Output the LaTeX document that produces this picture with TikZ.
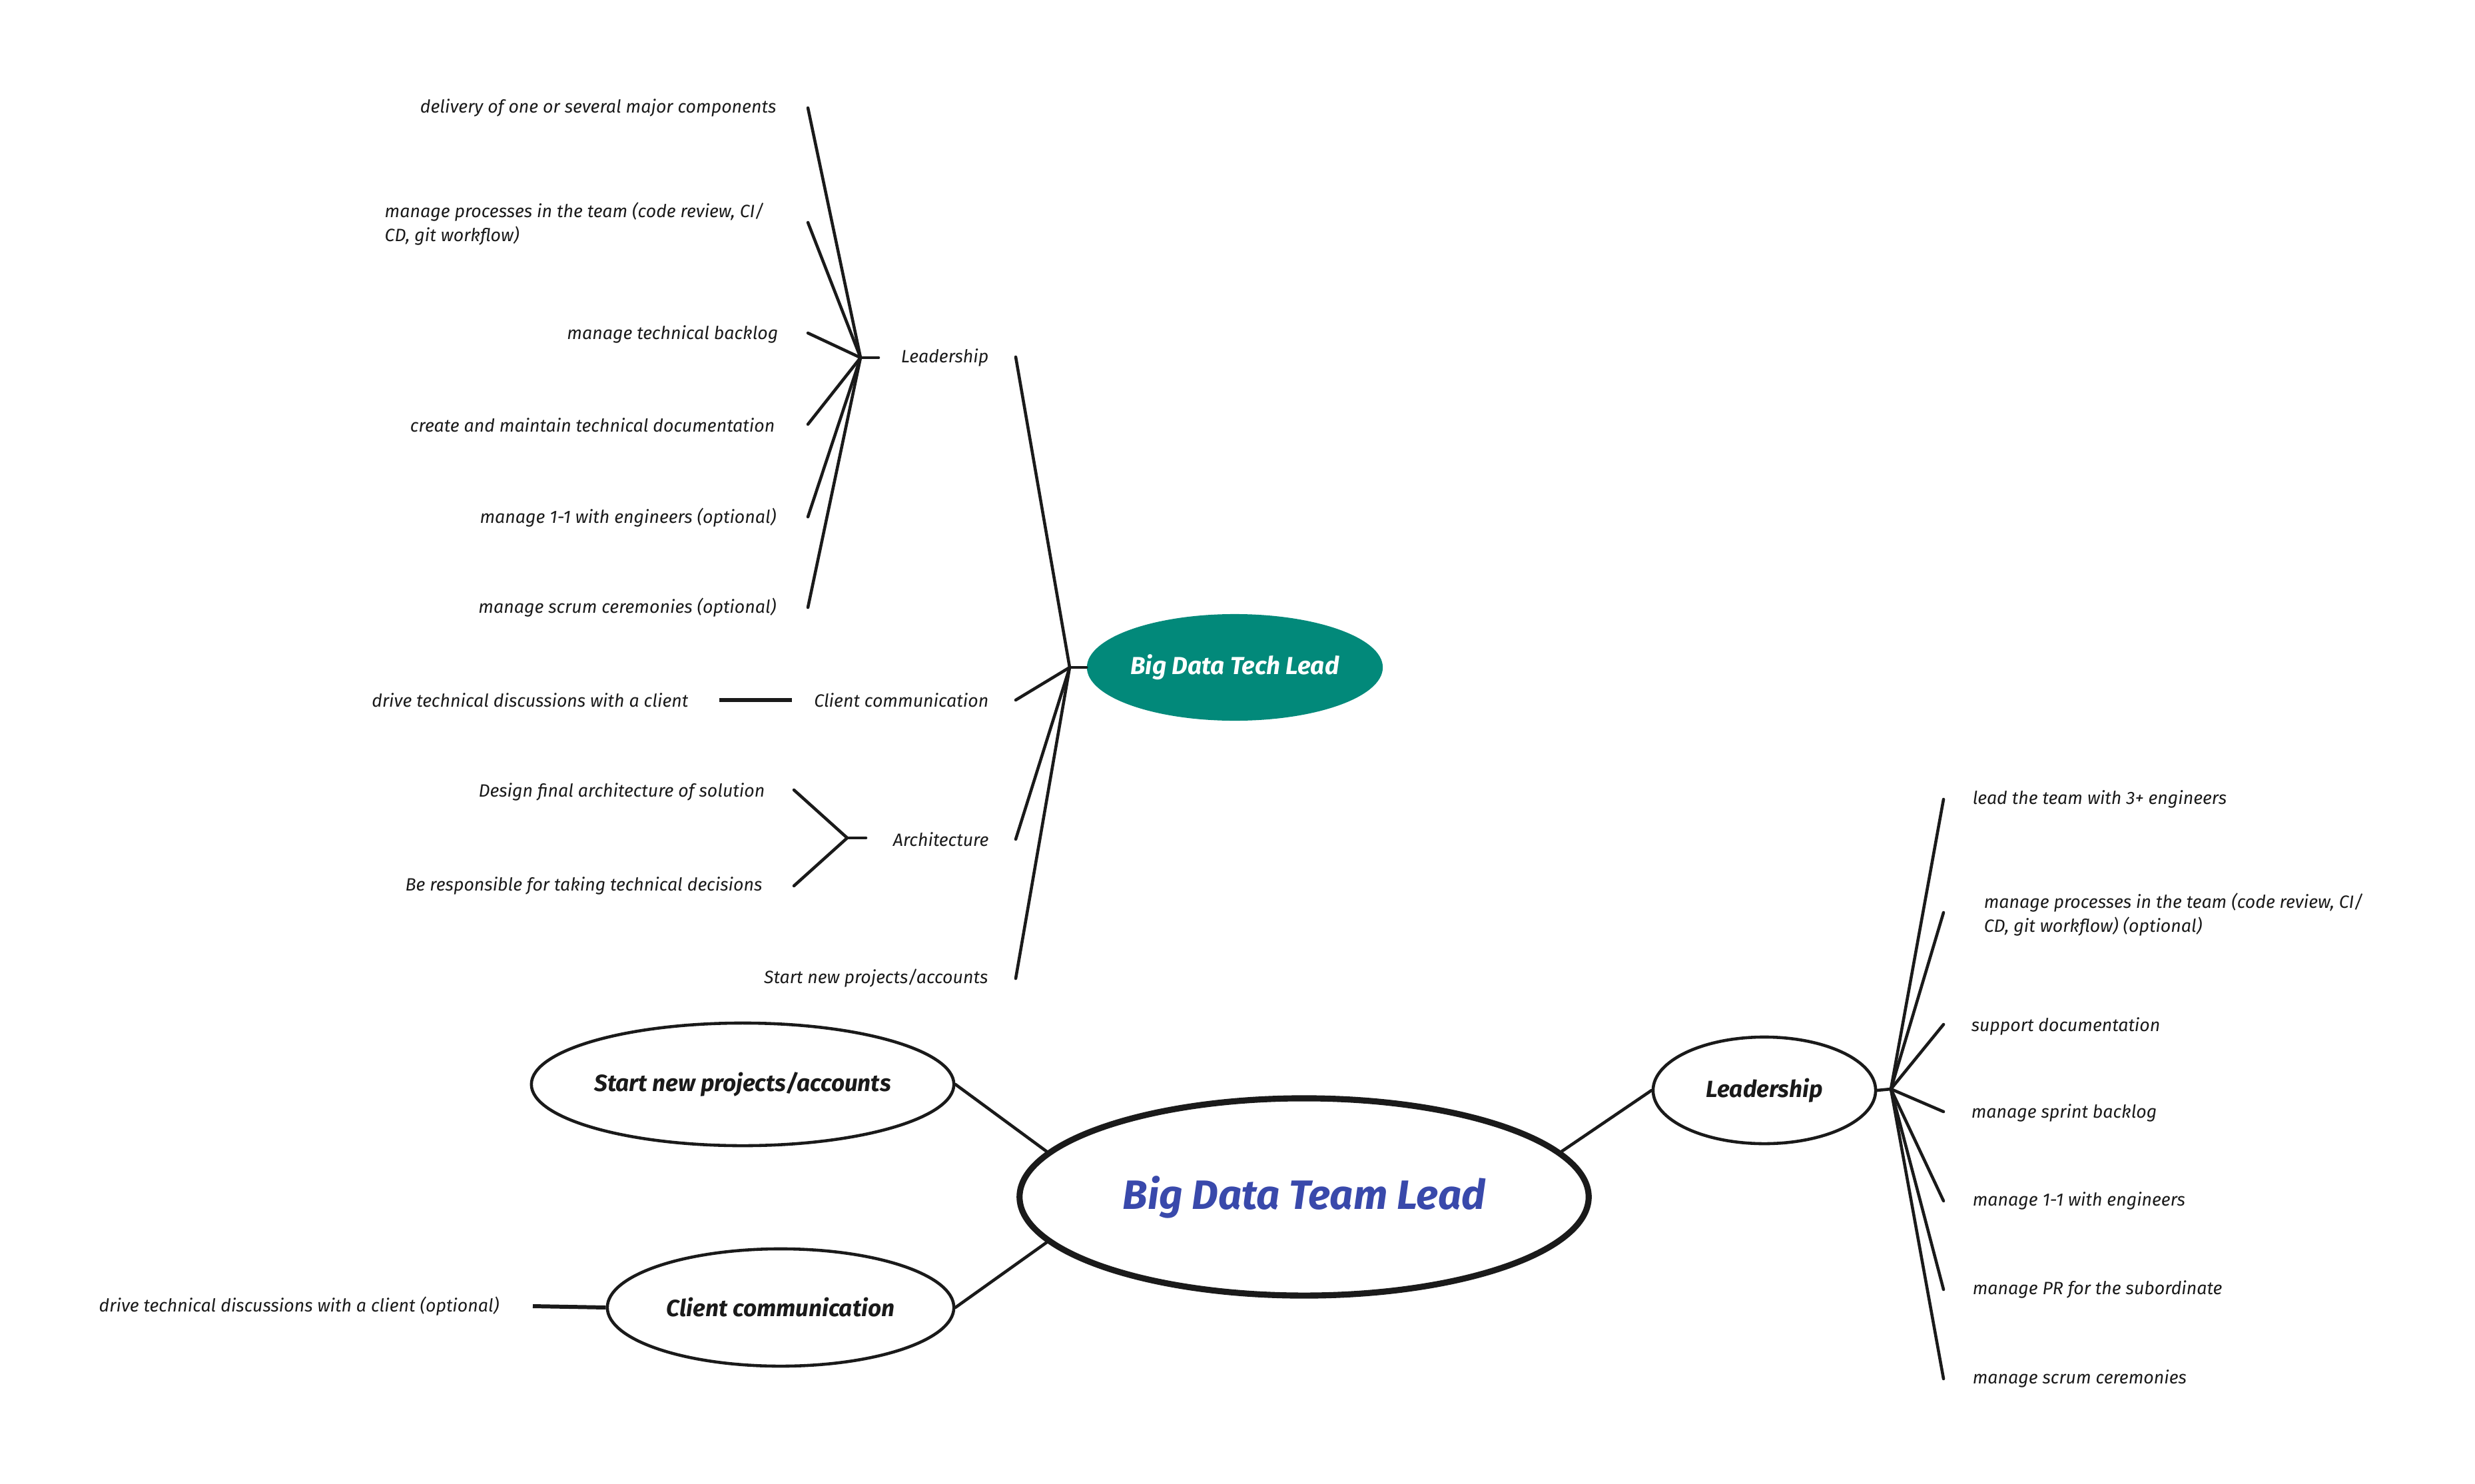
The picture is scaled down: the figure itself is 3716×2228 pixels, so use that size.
\documentclass[tikz,border=0pt]{standalone}
\usepackage{fontspec}
\setmainfont{Fira Sans}
\usetikzlibrary{shapes.geometric}
\definecolor{teal1}{HTML}{02897A}
\definecolor{ink}{HTML}{1A1A1A}
\definecolor{blue1}{HTML}{3949AB}
\begin{document}
\begin{tikzpicture}[x=0.01cm,y=-0.01cm,
  ln/.style={line width=1.3pt, draw=ink, line cap=round},
  thick line/.style={line width=1.7pt, draw=ink},
  leaf/.style={font=\fontsize{7.6}{10}\selectfont\itshape, inner sep=0pt, text=ink},
  lab/.style={font=\fontsize{10}{11}\selectfont\bfseries\itshape, text=ink},
  bub/.style={ellipse, draw=ink, line width=1.3pt, inner sep=0pt, fill=white},
]
\useasboundingbox (0,0) rectangle (3716,2228);

% ---------------- Big Data Tech Lead ----------------
\node[ellipse, fill=teal1, minimum width=4.44cm, minimum height=1.6cm, inner sep=0pt,
      font=\fontsize{10.5}{12}\selectfont\bfseries\itshape, text=white] (tl) at (1854,1002) {Big Data Tech Lead};
\coordinate (tlh) at (1606,1002);
\draw[ln] (tlh) -- (tl.west);

% Leadership branch
\coordinate (tlA) at (1525,536);
\node[leaf, anchor=east] (tLead) at (1485,537) {Leadership};
\coordinate (lsh) at (1292,537);
\coordinate (lss) at (1319,537);
\draw[ln] (tlh) -- (tlA);
\draw[ln] (lsh) -- (lss);

\coordinate (a1) at (1213,162);
\coordinate (a2) at (1213,334);
\coordinate (a3) at (1213,500);
\coordinate (a4) at (1213,637);
\coordinate (a5) at (1213,776);
\coordinate (a6) at (1213,912);
\foreach \p in {a1,a2,a3,a4,a5,a6} \draw[ln] (lsh) -- (\p);

\node[leaf, anchor=east] (ta1) at (1166,162) {delivery of one or several major components};
\node[leaf, anchor=west, align=left] (ta2) at (577,336) {manage processes in the team (code review, CI/\\CD, git workflow)};
\node[leaf, anchor=east] (ta3) at (1169,502) {manage technical backlog};
\node[leaf, anchor=east] (ta4) at (1164,638) {create and maintain technical documentation};
\node[leaf, anchor=east] (ta5) at (1166,777) {manage 1-1 with engineers (optional)};
\node[leaf, anchor=east] (ta6) at (1166,912) {manage scrum ceremonies (optional)};

% Client communication branch
\coordinate (tlB) at (1525,1051);
\node[leaf, anchor=east] (tCC) at (1485,1051) {Client communication};
\draw[ln] (tlh) -- (tlB);
\coordinate (dcA) at (1080,1051);
\coordinate (dcB) at (1189,1051);
\draw[thick line] (dcA) -- (dcB);
\node[leaf, anchor=east] (tDrive) at (1034,1051) {drive technical discussions with a client};

% Architecture branch
\coordinate (tlC) at (1525,1260);
\node[leaf, anchor=east] (tArch) at (1485,1260) {Architecture};
\draw[ln] (tlh) -- (tlC);
\coordinate (ah) at (1272,1258);
\coordinate (as) at (1300,1258);
\draw[ln] (ah) -- (as);
\coordinate (b1) at (1192,1186);
\coordinate (b2) at (1192,1330);
\draw[ln] (ah) -- (b1);
\draw[ln] (ah) -- (b2);
\node[leaf, anchor=east] (tb1) at (1149,1189) {Design final architecture of solution};
\node[leaf, anchor=east] (tb2) at (1145,1330) {Be responsible for taking technical decisions};

% Start new projects branch
\coordinate (tlD) at (1525,1469);
\node[leaf, anchor=east] (tStart) at (1484,1469) {Start new projects/accounts};
\draw[ln] (tlh) -- (tlD);

% ---------------- Big Data Team Lead ----------------
\node[bub, line width=2.6pt, minimum width=8.54cm, minimum height=2.96cm,
      font=\fontsize{17.5}{20}\selectfont\bfseries\itshape, text=blue1] (team) at (1958,1797) {Big Data Team Lead};
\node[bub, lab, minimum width=6.34cm, minimum height=1.84cm, inner xsep=-8pt] (start) at (1115,1628) {Start new projects/accounts};
\node[bub, lab, minimum width=5.2cm, minimum height=1.76cm, inner xsep=-8pt] (client) at (1172,1963) {Client communication};
\node[bub, lab, minimum width=3.34cm, minimum height=1.6cm] (lead) at (2649,1637) {Leadership};

\draw[ln] (start.east) -- (team.170);
\draw[ln] (client.east) -- (team.190);
\draw[ln] (team.10) -- (lead.west);

% drive technical discussions (optional)
\coordinate (dA) at (800,1961);
\draw[thick line] (dA) -- (client.west);
\node[leaf, anchor=east] (tDrive2) at (750,1961) {drive technical discussions with a client (optional)};

% Leadership leaves
\coordinate (rh) at (2839,1635);
\draw[ln] (lead.east) -- (rh);
\coordinate (c1) at (2918,1200);
\coordinate (c2) at (2918,1370);
\coordinate (c3) at (2918,1538);
\coordinate (c4) at (2918,1669);
\coordinate (c5) at (2918,1803);
\coordinate (c6) at (2918,1936);
\coordinate (c7) at (2918,2070);
\foreach \p in {c1,c2,c3,c4,c5,c6,c7} \draw[ln] (rh) -- (\p);

\node[leaf, anchor=west] (tc1) at (2961,1200) {lead the team with 3+ engineers};
\node[leaf, anchor=west, align=left] (tc2) at (2978,1373) {manage processes in the team (code review, CI/\\CD, git workflow) (optional)};
\node[leaf, anchor=west] (tc3) at (2959,1541) {support documentation};
\node[leaf, anchor=west] (tc4) at (2959,1671) {manage sprint backlog};
\node[leaf, anchor=west] (tc5) at (2961,1803) {manage 1-1 with engineers};
\node[leaf, anchor=west] (tc6) at (2961,1936) {manage PR for the subordinate};
\node[leaf, anchor=west] (tc7) at (2961,2070) {manage scrum ceremonies};
\end{tikzpicture}
\end{document}
